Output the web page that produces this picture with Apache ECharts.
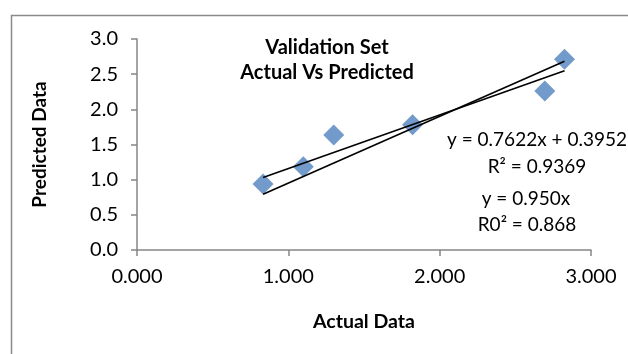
<!DOCTYPE html>
<html>
<head>
<meta charset="utf-8">
<script src="https://cdn.jsdelivr.net/npm/echarts@6/dist/echarts.min.js"></script>
<style>
html,body{margin:0;padding:0;background:#fff;}
#c{width:628px;height:354px;}
</style>
</head>
<body>
<div id="c"></div>
<script>
// Data
const actual = [0.833, 1.099, 1.300, 1.821, 2.695, 2.825];
const predicted = [0.938, 1.182, 1.636, 1.781, 2.262, 2.712];
// Trendline endpoints (x, y)
const trendLinear = [[0.833, 1.030], [2.825, 2.548]];
const trendOrigin = [[0.833, 0.792], [2.825, 2.684]];
const yTicks = [0, 0.5, 1, 1.5, 2, 2.5, 3];
const xTicks = [0, 1, 2, 3];
const eqText1 = ['y = 0.7622x + 0.3952', 'R² = 0.9369'];
const eqText2 = ['y = 0.950x', 'R0² = 0.868'];

const points = actual.map((x, i) => [x, predicted[i]]);
const FONT = 'Lato';
const chart = echarts.init(document.getElementById('c'), null, {renderer: 'canvas'});
chart.setOption({
  animation: false,
  backgroundColor: '#ffffff',
  title: {
    text: 'Validation Set\nActual Vs Predicted',
    left: 322, top: 30, textAlign: 'center',
    textStyle: {fontFamily: FONT, fontWeight: 'bold', fontSize: 20, color: '#000', lineHeight: 25}
  },
  grid: {left: 137, right: 37, top: 39, bottom: 104, containLabel: false},
  xAxis: {
    type: 'value', min: xTicks[0], max: xTicks[xTicks.length - 1], interval: 1,
    name: 'Actual Data', nameLocation: 'middle', nameGap: 62,
    nameTextStyle: {fontFamily: FONT, fontWeight: 'bold', fontSize: 19.5, color: '#000'},
    axisLine: {show: true, lineStyle: {color: '#868686', width: 1.5}},
    axisTick: {show: true, inside: false, length: 6, lineStyle: {color: '#868686', width: 1.5}},
    splitLine: {show: false},
    axisLabel: {fontFamily: FONT, fontSize: 20, color: '#000', margin: 17, formatter: v => v.toFixed(3)}
  },
  yAxis: {
    type: 'value', min: yTicks[0], max: yTicks[yTicks.length - 1], interval: 0.5,
    name: 'Predicted Data', nameLocation: 'middle', nameGap: 88, nameRotate: 90,
    nameTextStyle: {fontFamily: FONT, fontWeight: 'bold', fontSize: 19, color: '#000'},
    axisLine: {show: true, onZero: false, lineStyle: {color: '#868686', width: 1.5}},
    axisTick: {show: true, inside: false, length: 6, lineStyle: {color: '#868686', width: 1.5}},
    splitLine: {show: false},
    axisLabel: {fontFamily: FONT, fontSize: 20, color: '#000', margin: 19, formatter: v => v.toFixed(1)}
  },
  graphic: [
    {type: 'rect', left: 9, top: 13, shape: {width: 640, height: 360}, style: {fill: 'none', stroke: '#8a8a8a', lineWidth: 1.5}, z: -1},
    {type: 'text', x: 537, y: 140, style: {text: eqText1[0], fontFamily: FONT, fontSize: 19, fill: '#000', align: 'center', verticalAlign: 'middle'}},
    {type: 'text', x: 537, y: 167, style: {text: eqText1[1], fontFamily: FONT, fontSize: 19, fill: '#000', align: 'center', verticalAlign: 'middle'}},
    {type: 'text', x: 526, y: 199, style: {text: eqText2[0], fontFamily: FONT, fontSize: 19, fill: '#000', align: 'center', verticalAlign: 'middle'}},
    {type: 'text', x: 527, y: 225, style: {text: eqText2[1], fontFamily: FONT, fontSize: 19, fill: '#000', align: 'center', verticalAlign: 'middle'}}
  ],
  series: [
    {
      type: 'scatter', data: points, symbol: 'diamond', symbolSize: 21,
      itemStyle: {color: '#4F81BD'}, z: 2
    },
    {
      type: 'line', data: trendLinear, symbol: 'none', silent: true,
      lineStyle: {color: '#000', width: 1.6}, z: 3
    },
    {
      type: 'line', data: trendOrigin, symbol: 'none', silent: true,
      lineStyle: {color: '#000', width: 1.6}, z: 3
    }
  ]
});
</script>
</body>
</html>
